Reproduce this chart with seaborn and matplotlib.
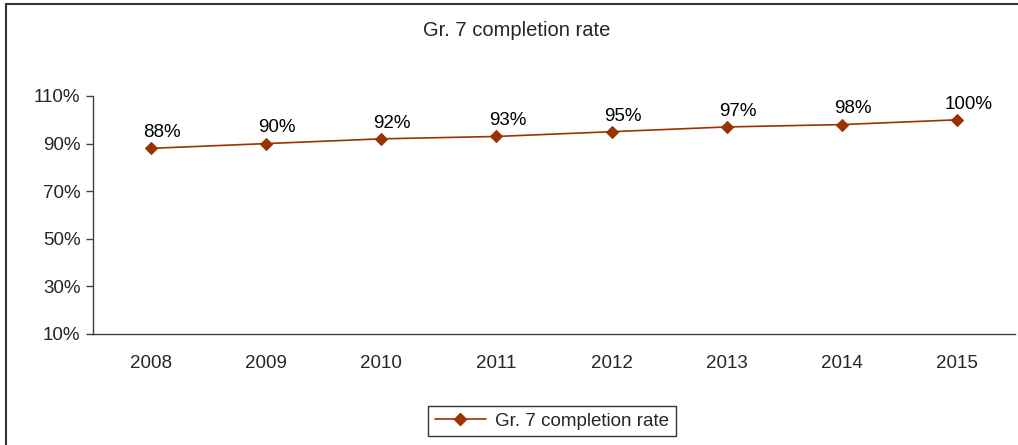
import pandas as pd
import matplotlib.pyplot as plt
import matplotlib.ticker as mticker
from matplotlib.lines import Line2D
import seaborn as sns

years = ['2008', '2009', '2010', '2011', '2012', '2013', '2014', '2015']
rates = [88, 90, 92, 93, 95, 97, 98, 100]
series_name = 'Gr. 7 completion rate'
y_ticks = [10, 30, 50, 70, 90, 110]

sns.set_style('white')
plt.rcParams['font.family'] = ['Liberation Sans', 'DejaVu Sans']
plt.rcParams['font.size'] = 13.5

df = pd.DataFrame({'Year': years, 'Rate': rates})

fig = plt.figure(figsize=(10.18, 4.45), dpi=100)
ax = fig.add_axes([93 / 1018, 1 - 334 / 445, (1015 - 93) / 1018, (334 - 96) / 445])

line_color = '#993300'
sns.lineplot(data=df, x='Year', y='Rate', sort=False, color=line_color, linewidth=1.2,
             marker='D', markersize=6.3, markeredgecolor=line_color, label=series_name, ax=ax)

for i, v in enumerate(rates):
    ax.annotate(f'{v}%', (i, v), xytext=(8, 8), textcoords='offset points',
                ha='center', va='baseline', fontsize=13.5, color='black')

ax.set_xlim(-0.5, len(years) - 0.5)
ax.set_ylim(10, 110)
ax.set_yticks(y_ticks)
ax.yaxis.set_major_formatter(mticker.FuncFormatter(lambda v, p: f'{v:.0f}%'))
ax.set_xlabel('')
ax.set_ylabel('')

ax.set_xticks([i + 0.5 for i in range(-1, len(years))], minor=True)
ax.tick_params(axis='x', which='major', length=0, pad=15)
ax.tick_params(axis='x', which='minor', length=5, width=1, color='#404040', direction='out')
ax.tick_params(axis='y', length=5, width=1, color='#404040', direction='out', pad=4, left=True)

sns.despine(ax=ax)
for s in ['left', 'bottom']:
    ax.spines[s].set_color('#404040')
    ax.spines[s].set_linewidth(1)

fig.text(0.508, 1 - 31 / 445, 'Gr. 7 completion rate', ha='center', va='center', fontsize=14.5)

ax.get_legend().remove()
leg = fig.legend(handles=[Line2D([], [], color=line_color, lw=1.2, marker='D', markersize=6.3)],
                 labels=[series_name], loc='center', bbox_to_anchor=(552 / 1018, 1 - 421 / 445),
                 frameon=True, fancybox=False, handlelength=2.7, handletextpad=0.5,
                 borderpad=0.35, fontsize=13.5)
leg.get_frame().set_edgecolor('black')
leg.get_frame().set_linewidth(1)

fig.add_artist(Line2D([6 / 1018, 6 / 1018], [0, 1 - 4 / 445], color='#333333', lw=1.5))
fig.add_artist(Line2D([6 / 1018, 1], [1 - 4 / 445, 1 - 4 / 445], color='#333333', lw=1.5))

fig.savefig('out.png', dpi=100)
